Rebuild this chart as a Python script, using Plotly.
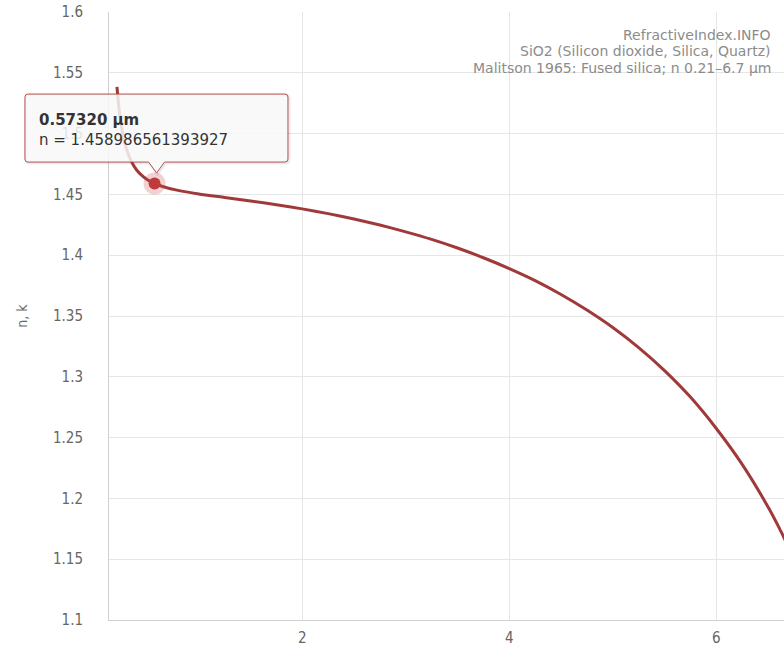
import plotly.graph_objects as go

# Malitson 1965 fused silica, n vs wavelength (µm)
wavelength_um = [0.21, 0.23, 0.25, 0.28, 0.30, 0.35, 0.40, 0.45, 0.50, 0.5732, 0.65, 0.80,
                 1.0, 1.25, 1.5, 1.75, 2.0, 2.25, 2.5, 2.75, 3.0, 3.25, 3.5, 3.75, 4.0,
                 4.25, 4.5, 4.75, 5.0, 5.25, 5.5, 5.75, 6.0, 6.25, 6.5, 6.6, 6.7]
n_values = [1.5384, 1.5202, 1.5074, 1.4942, 1.4878, 1.4769, 1.4701, 1.4656, 1.4623, 1.45899,
            1.4565, 1.4533, 1.4504, 1.4475, 1.4446, 1.4415, 1.4381, 1.4342, 1.4298, 1.4248,
            1.4192, 1.4130, 1.4059, 1.3979, 1.3890, 1.3791, 1.3677, 1.3549, 1.3405, 1.3240,
            1.3051, 1.2833, 1.2575, 1.2280, 1.1930, 1.1770, 1.1596]

hover_wavelength = 0.5732
hover_n = 1.458986561393927

x_tickvals = [2, 4, 6]
y_tickvals = [1.1, 1.15, 1.2, 1.25, 1.3, 1.35, 1.4, 1.45, 1.5, 1.55, 1.6]
y_ticktext = ["1.1", "1.15", "1.2", "1.25", "1.3", "1.35", "1.4", "1.45", "1.5", "1.55", "1.6"]

info_lines = ["RefractiveIndex.INFO",
              "SiO2 (Silicon dioxide, Silica, Quartz)",
              "Malitson 1965: Fused silica; n 0.21–6.7 µm"]

X_RANGE = [0.133, 6.654]
Y_RANGE = [1.1, 1.6]

LINE = "#a0393a"
TICKFONT = dict(family="DejaVu Sans Condensed, DejaVu Sans, sans-serif", size=15, color="#666666")

fig = go.Figure()
fig.add_trace(go.Scatter(x=wavelength_um, y=n_values, mode="lines",
                         line=dict(color=LINE, width=3, shape="spline", smoothing=0.7),
                         hoverinfo="skip", showlegend=False))
# halo + marker
fig.add_trace(go.Scatter(x=[hover_wavelength], y=[hover_n], mode="markers",
                         marker=dict(size=22, color="rgba(200,70,70,0.25)", line=dict(width=0)),
                         hoverinfo="skip", showlegend=False))
fig.add_trace(go.Scatter(x=[hover_wavelength], y=[hover_n], mode="markers",
                         marker=dict(size=12, color="#c0393b", line=dict(width=0)),
                         hoverinfo="skip", showlegend=False))

# tooltip anchored at the hovered point (paper fractions derived from the axis ranges)
ax_frac = (hover_wavelength - X_RANGE[0]) / (X_RANGE[1] - X_RANGE[0])
ay_frac = (hover_n - Y_RANGE[0]) / (Y_RANGE[1] - Y_RANGE[0])

tooltip_path = ("M -126.6,89.4 L 130.4,89.4 Q 133.4,89.4 133.4,86.4 L 133.4,24.4 "
                "Q 133.4,21.4 130.4,21.4 L 10,21.4 L 2,10.5 L -6,21.4 L -126.6,21.4 "
                "Q -129.6,21.4 -129.6,24.4 L -129.6,86.4 Q -129.6,89.4 -126.6,89.4 Z")
shadow_path = ("M -125.6,88.4 L 131.4,88.4 Q 134.4,88.4 134.4,85.4 L 134.4,23.4 "
               "Q 134.4,20.4 131.4,20.4 L 11,20.4 L 3,9.5 L -5,20.4 L -125.6,20.4 "
               "Q -128.6,20.4 -128.6,23.4 L -128.6,85.4 Q -128.6,88.4 -125.6,88.4 Z")
for p, lc, lw, fc in [(shadow_path, "rgba(0,0,0,0.08)", 3, "rgba(0,0,0,0)"),
                      (tooltip_path, "#b5504e", 1, "rgba(248,248,248,0.85)")]:
    fig.add_shape(type="path", path=p, xref="paper", yref="paper",
                  xsizemode="pixel", ysizemode="pixel",
                  xanchor=ax_frac, yanchor=ay_frac,
                  line=dict(color=lc, width=lw), fillcolor=fc, layer="above")

fig.add_annotation(x=hover_wavelength, y=hover_n, xref="x", yref="y",
                   text=f"<b>{hover_wavelength:.5f} µm</b><br>n = {hover_n}",
                   showarrow=False, xanchor="left", yanchor="top", align="left",
                   xshift=-118, yshift=74,
                   font=dict(family="DejaVu Sans, sans-serif", size=15, color="#333333"))

for i, line in enumerate(info_lines):
    fig.add_annotation(x=1, y=1, xref="paper", yref="paper", xanchor="right", yanchor="middle",
                       xshift=-11, yshift=-22.5 - 16.5 * i, showarrow=False, text=line,
                       font=dict(family="DejaVu Sans, sans-serif", size=14, color="#8c8c8c"))

fig.update_layout(
    width=784, height=647,
    margin=dict(l=109, r=0, t=12, b=27),
    paper_bgcolor="white", plot_bgcolor="white",
    xaxis=dict(range=X_RANGE, tickvals=x_tickvals, showgrid=True, gridcolor="#e6e6e6",
               gridwidth=1, zeroline=False, showline=True, linecolor="#d0d0d0", linewidth=1,
               ticks="", tickfont=TICKFONT, ticklabelstandoff=4, ticklabeloverflow="allow"),
    yaxis=dict(range=Y_RANGE, tickvals=y_tickvals, ticktext=y_ticktext, showgrid=True,
               gridcolor="#e6e6e6", gridwidth=1, zeroline=False, showline=True,
               linecolor="#d0d0d0", linewidth=1, ticks="", tickfont=TICKFONT,
               ticklabelstandoff=22, ticklabeloverflow="allow",
               title=dict(text="n, k", standoff=22,
                          font=dict(family="DejaVu Sans Condensed, DejaVu Sans, sans-serif",
                                    size=14, color="#666666"))),
)

page_css = ("document.documentElement.style.overflow='hidden';"
            "document.body.style.margin='0';document.body.style.overflow='hidden';")
fig.write_html("out.html", post_script=page_css, config={"displayModeBar": False})
